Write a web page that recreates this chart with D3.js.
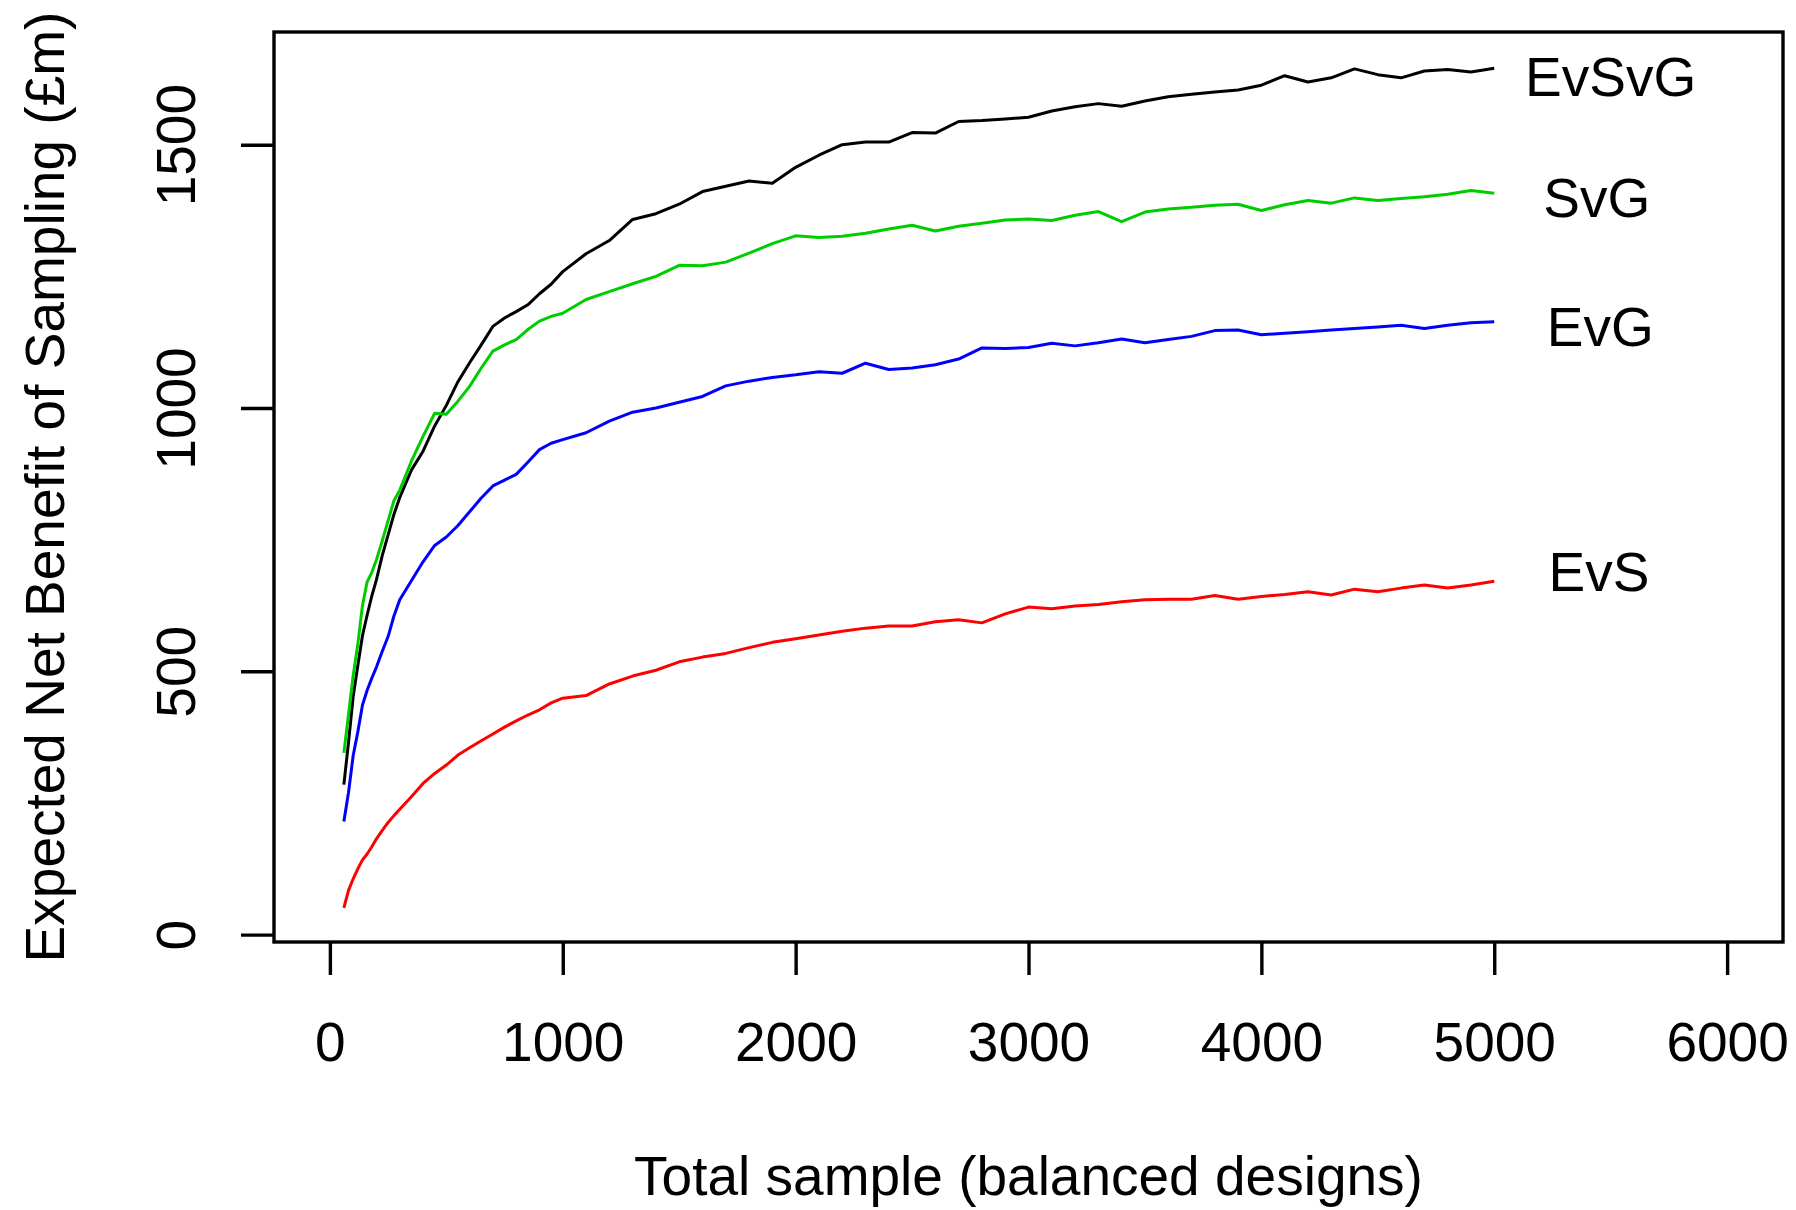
<!DOCTYPE html>
<html>
<head>
<meta charset="utf-8">
<script src="https://cdn.jsdelivr.net/npm/d3@7"></script>
<style>
  body { margin: 0; background: #fff; }
  text { font-family: "Liberation Sans", Arial, sans-serif; fill: #000; }
</style>
</head>
<body>
<div id="plot1"></div>
<script>
// total sample sizes (balanced designs)
var sampleSize = [60, 80, 100, 120, 140, 160, 180, 200, 225, 250, 275, 300, 350, 400, 450, 500,
  550, 600, 650, 700, 750, 800, 850, 900, 950, 1000, 1100, 1200, 1300, 1400, 1500, 1600, 1700,
  1800, 1900, 2000, 2100, 2200, 2300, 2400, 2500, 2600, 2700, 2800, 2900, 3000, 3100, 3200,
  3300, 3400, 3500, 3600, 3700, 3800, 3900, 4000, 4100, 4200, 4300, 4400, 4500, 4600, 4700,
  4800, 4900, 5000];

// expected net benefit of sampling (£m)
var enbsEvSvG = [285, 365, 452, 511, 568, 607, 643, 674, 720, 759, 798, 830, 882, 918, 966, 1005,
  1050, 1086, 1120, 1155, 1171, 1183, 1196, 1217, 1235, 1259, 1293, 1318, 1358, 1369, 1387, 1411,
  1421, 1431, 1427, 1457, 1480, 1500, 1505, 1505, 1523, 1522, 1544, 1546, 1549, 1552, 1564, 1572,
  1578, 1573, 1583, 1591, 1596, 1600, 1604, 1613, 1631, 1619, 1627, 1644, 1633, 1627, 1640, 1643,
  1638, 1645];

var enbsSvG = [345, 418, 492, 552, 625, 670, 688, 712, 748, 786, 824, 844, 899, 946, 990, 988,
  1013, 1041, 1076, 1108, 1120, 1130, 1149, 1165, 1174, 1180, 1206, 1221, 1236, 1250, 1271, 1270,
  1277, 1294, 1312, 1327, 1324, 1326, 1332, 1340, 1347, 1336, 1345, 1351, 1357, 1359, 1356, 1366,
  1373, 1354, 1372, 1378, 1381, 1385, 1387, 1375, 1386, 1394, 1389, 1399, 1394, 1398, 1401, 1406,
  1413, 1408];

var enbsEvG = [215, 270, 340, 385, 436, 464, 487, 508, 538, 566, 605, 636, 672, 708, 739, 755,
  777, 803, 829, 852, 863, 874, 897, 921, 933, 940, 953, 975, 992, 1000, 1011, 1022, 1042, 1051,
  1058, 1063, 1069, 1066, 1085, 1073, 1076, 1082, 1093, 1114, 1113, 1115, 1123, 1118, 1124, 1131,
  1124, 1130, 1136, 1147, 1148, 1139, 1142, 1145, 1148, 1151, 1154, 1157, 1151, 1157, 1162, 1164];

var enbsEvS = [51, 84, 106, 125, 142, 153, 167, 182, 198, 213, 226, 238, 262, 287, 306, 322,
  341, 355, 368, 381, 394, 406, 417, 427, 440, 449, 454, 476, 491, 502, 518, 527, 534, 545, 555,
  562, 569, 576, 582, 586, 586, 594, 598, 592, 609, 622, 619, 624, 627, 632, 636, 637, 637, 644,
  637, 642, 646, 651, 645, 656, 651, 658, 664, 658, 664, 671];

var seriesNames = ["EvSvG", "SvG", "EvG", "EvS"];
var seriesColors = ["#000000", "#00cd00", "#0000ff", "#ff0000"];
var labelX = [5500, 5440, 5455, 5450];
var labelY = [1630, 1400, 1155, 690];

var xTicks = [0, 1000, 2000, 3000, 4000, 5000, 6000];
var yTicks = [0, 500, 1000, 1500];

var allValues = [enbsEvSvG, enbsSvG, enbsEvG, enbsEvS];
var series = seriesNames.map(function (name, i) {
  return {
    name: name,
    color: seriesColors[i],
    lx: labelX[i],
    ly: labelY[i],
    values: sampleSize.map(function (n, j) { return {n: n, v: allValues[i][j]}; })
  };
});

var fontSize = "55px";

var margin = {top: 32, right: 13, bottom: 268, left: 274}
  , width = 1796 - margin.left - margin.right
  , height = 1210 - margin.top - margin.bottom;

// R style: 4% padding around the limits
var xScale = d3.scaleLinear()
  .domain([-240, 6240])
  .range([0, width]);

var yScale = d3.scaleLinear()
  .domain([-14, 1714])
  .range([height, 0]);

var svg = d3.select("#plot1").append("svg")
  .attr("width", 1796)
  .attr("height", 1210)
.append("g")
  .attr("transform", "translate(" + margin.left + "," + margin.top + ")");

var line = d3.line()
  .x(function (d) { return xScale(d.n); })
  .y(function (d) { return yScale(d.v); });

svg.selectAll(".series")
  .data(series)
  .enter().append("path")
  .attr("class", "series")
  .attr("d", function (d) { return line(d.values); })
  .attr("fill", "none")
  .attr("stroke", function (d) { return d.color; })
  .attr("stroke-width", 3)
  .attr("stroke-linejoin", "round");

svg.selectAll(".label")
  .data(series)
  .enter().append("text")
  .attr("class", "label")
  .attr("x", function (d) { return xScale(d.lx); })
  .attr("y", function (d) { return yScale(d.ly); })
  .attr("dy", "0.36em")
  .attr("text-anchor", "middle")
  .style("font-size", fontSize)
  .text(function (d) { return d.name; });

// x axis
var xAxis = svg.append("g")
  .attr("transform", "translate(0," + height + ")")
  .call(d3.axisBottom(xScale).tickValues(xTicks).tickFormat(d3.format("d"))
    .tickSize(33).tickPadding(47).tickSizeOuter(0));
xAxis.select(".domain").remove();
xAxis.selectAll("line").attr("stroke", "#000").attr("stroke-width", 3.4);
xAxis.selectAll("text").attr("font-family", null).style("font-size", fontSize);

// y axis, labels parallel to the axis
var yAxis = svg.append("g")
  .call(d3.axisLeft(yScale).tickValues(yTicks).tickFormat(d3.format("d"))
    .tickSize(33).tickSizeOuter(0));
yAxis.select(".domain").remove();
yAxis.selectAll("line").attr("stroke", "#000").attr("stroke-width", 3.4);
yAxis.selectAll("text")
  .attr("font-family", null)
  .attr("x", null)
  .attr("dy", null)
  .attr("text-anchor", "middle")
  .attr("transform", "translate(-79,0) rotate(-90)")
  .style("font-size", fontSize);

// plot frame
svg.append("rect")
  .attr("x", 0)
  .attr("y", 0)
  .attr("width", width)
  .attr("height", height)
  .attr("fill", "none")
  .attr("stroke", "#000")
  .attr("stroke-width", 3.4);

svg.append("text")
  .attr("x", width / 2)
  .attr("y", 1195 - margin.top)
  .attr("text-anchor", "middle")
  .style("font-size", fontSize)
  .text("Total sample (balanced designs)");

svg.append("text")
  .attr("transform", "translate(" + (64 - margin.left) + "," + (height / 2) + ") rotate(-90)")
  .attr("text-anchor", "middle")
  .style("font-size", fontSize)
  .text("Expected Net Benefit of Sampling (£m)");
</script>
</body>
</html>
